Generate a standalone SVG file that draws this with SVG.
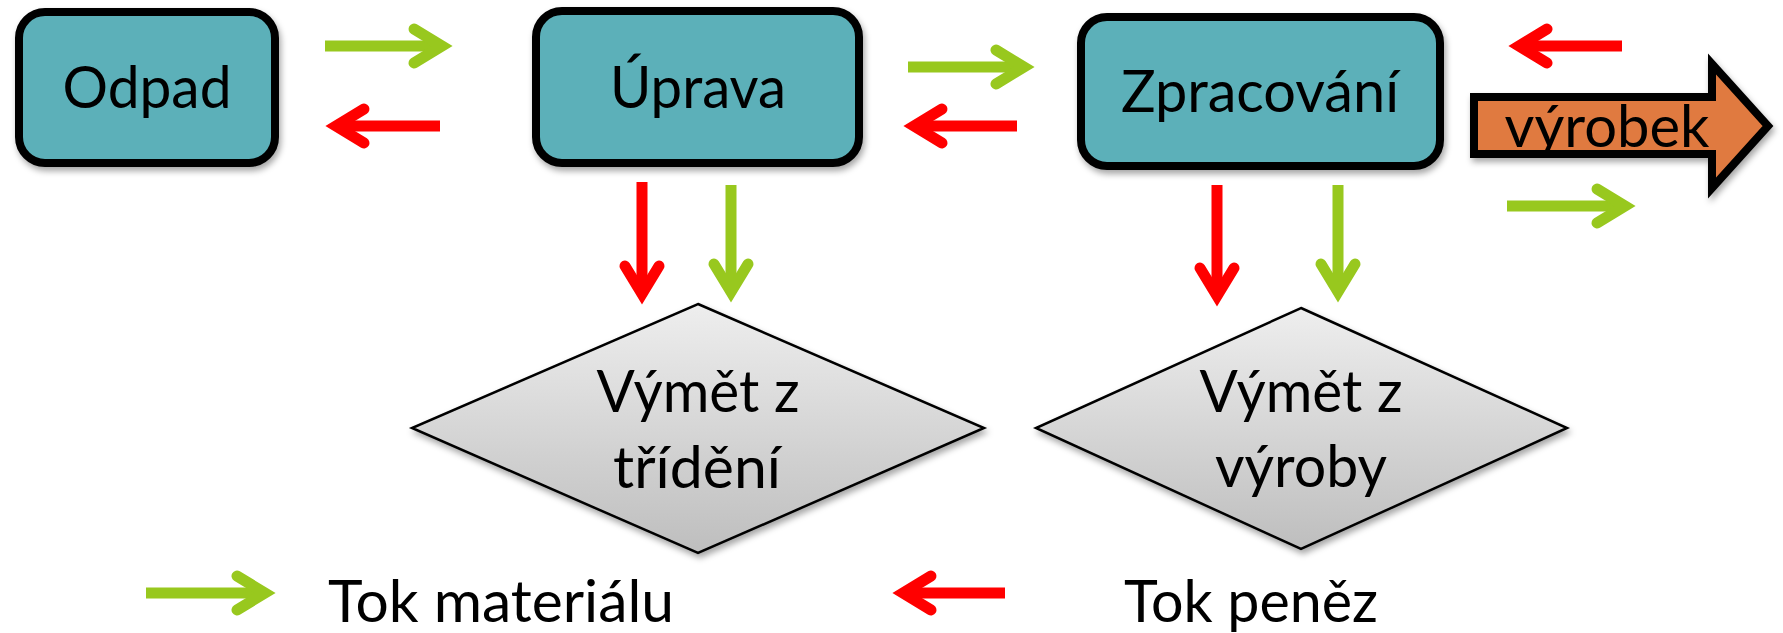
<svg xmlns="http://www.w3.org/2000/svg" width="1783" height="633" viewBox="0 0 1783 633">
  <defs>
    <linearGradient id="gray" x1="0" y1="0" x2="0" y2="1">
      <stop offset="0" stop-color="#EEEEEE"/>
      <stop offset="1" stop-color="#BEBEBE"/>
    </linearGradient>
    <filter id="shadow" x="-10%" y="-10%" width="120%" height="130%">
      <feDropShadow dx="2" dy="4" stdDeviation="3" flood-color="#000" flood-opacity="0.35"/>
    </filter>
    <marker id="headG" markerUnits="userSpaceOnUse" markerWidth="60" markerHeight="50" refX="40" refY="25" orient="auto" overflow="visible">
      <path d="M12,8 L40,25 L12,42" fill="none" stroke="#98C81E" stroke-width="11" stroke-linecap="round" stroke-linejoin="miter"/>
    </marker>
    <marker id="headR" markerUnits="userSpaceOnUse" markerWidth="60" markerHeight="50" refX="40" refY="25" orient="auto" overflow="visible">
      <path d="M12,8 L40,25 L12,42" fill="none" stroke="#FF0000" stroke-width="11" stroke-linecap="round" stroke-linejoin="miter"/>
    </marker>
  </defs>
  <style>
    .box { fill: #5BB0B9; stroke: #000; stroke-width: 8; filter: url(#shadow); }
    .dia { fill: url(#gray); stroke: #000; stroke-width: 2.5; stroke-linejoin: miter; filter: url(#shadow); }
    .prod { fill: #E07A3F; stroke: #000; stroke-width: 8; stroke-linejoin: miter; filter: url(#shadow); }
    .t { font-family: "Lato", "Open Sans", sans-serif; font-size: 58px; fill: #000; text-anchor: middle; }
    .tl { font-family: "Lato", "Open Sans", sans-serif; font-size: 58px; fill: #000; text-anchor: start; }
    .g { stroke: #98C81E; stroke-width: 11; fill: none; marker-end: url(#headG); }
    .r { stroke: #FF0000; stroke-width: 11; fill: none; marker-end: url(#headR); }
  </style>
  <rect width="1783" height="633" fill="#FFFFFF"/>

  <g id="odpad">
    <rect class="box" x="19" y="12" width="256" height="151" rx="26"/>
    <text class="t" x="147" y="108" textLength="169" lengthAdjust="spacingAndGlyphs">Odpad</text>
  </g>
  <g id="uprava">
    <rect class="box" x="536" y="11" width="323" height="152" rx="26"/>
    <text class="t" x="698" y="108" textLength="176" lengthAdjust="spacingAndGlyphs">Úprava</text>
  </g>
  <g id="zpracovani">
    <rect class="box" x="1081" y="17" width="359" height="149" rx="26"/>
    <text class="t" x="1260" y="112" textLength="278" lengthAdjust="spacingAndGlyphs">Zpracování</text>
  </g>
  <g id="vyrobek">
    <polygon class="prod" points="1474,97 1712,97 1712,64 1768,126 1712,188 1712,154 1474,154"/>
    <text class="t" x="1607" y="147" textLength="205" lengthAdjust="spacingAndGlyphs">výrobek</text>
  </g>
  <g id="vymet-trideni">
    <polygon class="dia" points="698,304 984,428 698,553 412,428"/>
    <text class="t" x="698" y="412" textLength="203" lengthAdjust="spacingAndGlyphs">Výmět z</text>
    <text class="t" x="697" y="488" textLength="168" lengthAdjust="spacingAndGlyphs">třídění</text>
  </g>
  <g id="vymet-vyroby">
    <polygon class="dia" points="1301,308 1567,428 1301,549 1036,428"/>
    <text class="t" x="1301" y="412" textLength="203" lengthAdjust="spacingAndGlyphs">Výmět z</text>
    <text class="t" x="1301" y="487" textLength="172" lengthAdjust="spacingAndGlyphs">výroby</text>
  </g>

  <g id="connectors">
    <line class="g" x1="325" y1="46" x2="442" y2="46"/>
    <line class="r" x1="440" y1="126" x2="336" y2="126"/>
    <line class="g" x1="908" y1="67" x2="1024" y2="67"/>
    <line class="r" x1="1017" y1="126" x2="914" y2="126"/>
    <line class="r" x1="1622" y1="46" x2="1519" y2="46"/>
    <line class="g" x1="1507" y1="206" x2="1625" y2="206"/>
    <line class="r" x1="642" y1="182" x2="642" y2="294"/>
    <line class="g" x1="731" y1="185" x2="731" y2="292"/>
    <line class="r" x1="1217" y1="185" x2="1217" y2="296"/>
    <line class="g" x1="1338" y1="185" x2="1338" y2="292"/>
  </g>

  <g id="legend">
    <line class="g" x1="146" y1="593" x2="265" y2="593"/>
    <text class="tl" x="328" y="622" textLength="346" lengthAdjust="spacingAndGlyphs">Tok materiálu</text>
    <line class="r" x1="1005" y1="593" x2="903" y2="593"/>
    <text class="tl" x="1124" y="622" textLength="254" lengthAdjust="spacingAndGlyphs">Tok peněz</text>
  </g>
</svg>
